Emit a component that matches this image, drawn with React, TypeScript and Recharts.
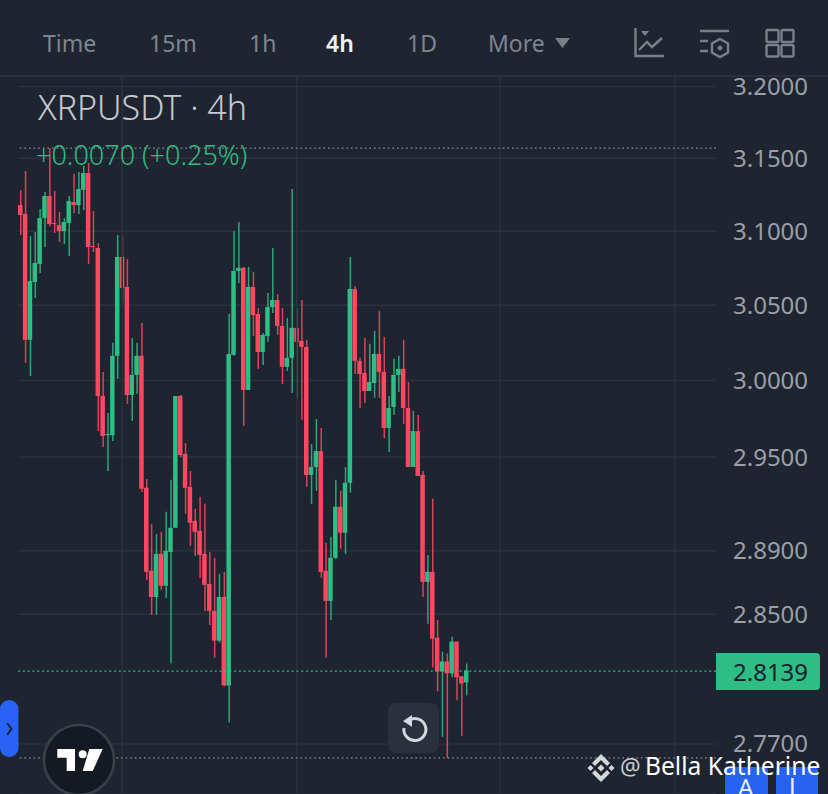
import {
  ComposedChart, Bar, XAxis, YAxis, CartesianGrid, ReferenceLine, Cell,
} from 'recharts';

const opens = [
  3.1178, 3.1117, 3.0269, 3.0656, 3.0778, 3.1089, 3.1240, 3.1055, 3.1041, 3.1000,
  3.1055, 3.1199, 3.1178, 3.1282, 3.1398, 3.0899, 3.0885, 2.9899, 2.9643, 2.9643,
  3.0163, 3.0825, 3.0623, 2.9905, 3.0037, 3.0163, 2.9302, 2.8773, 2.8608, 2.8880,
  2.8678, 2.8892, 2.9046, 2.9899, 2.9520, 2.9308, 2.9090, 2.9027, 2.8880, 2.8690,
  2.8520, 2.8335, 2.8608, 2.8058, 3.0170, 3.0730, 3.0751, 2.9938, 3.0623, 3.0442,
  3.0189, 3.0295, 3.0488, 3.0535, 3.0362, 3.0090, 3.0150, 3.0349, 3.0262, 3.0222,
  2.9385, 2.9436, 2.9539, 2.8773, 2.8583, 2.8855, 2.9180, 2.9014, 2.9334, 3.0609,
  3.0130, 3.0050, 2.9931, 2.9984, 3.0176, 3.0057, 2.9689, 2.9827, 3.0037, 3.0077,
  2.9820, 2.9436, 2.9669, 2.9385, 2.8703, 2.8766, 2.8353, 2.8144, 2.8206, 2.8132,
  2.8329, 2.8114, 2.8076,
];
const closes = [
  3.1110, 3.0269, 3.0663, 3.0784, 3.1089, 3.1240, 3.1048, 3.1048, 3.1000, 3.1062,
  3.1206, 3.1178, 3.1288, 3.1398, 3.0892, 3.0892, 2.9899, 2.9637, 2.9650, 3.0163,
  3.0825, 3.0616, 2.9905, 3.0037, 3.0163, 2.9295, 2.8766, 2.8608, 2.8880, 2.8678,
  2.8899, 2.9046, 2.9899, 2.9513, 2.9302, 2.9078, 2.9020, 2.8873, 2.8684, 2.8520,
  2.8335, 2.8608, 2.8058, 3.0176, 3.0730, 3.0751, 2.9938, 3.0623, 3.0435, 3.0189,
  3.0302, 3.0488, 3.0535, 3.0362, 3.0090, 3.0150, 3.0349, 3.0256, 3.0222, 2.9385,
  2.9436, 2.9539, 2.8766, 2.8583, 2.8855, 2.9180, 2.9014, 2.9334, 3.0609, 3.0130,
  3.0043, 2.9931, 2.9990, 3.0176, 3.0057, 2.9689, 2.9820, 3.0037, 3.0077, 2.9820,
  2.9436, 2.9669, 2.9378, 2.8703, 2.8766, 2.8347, 2.8144, 2.8206, 2.8132, 2.8329,
  2.8108, 2.8070, 2.8150,
];
const highs = [
  3.1282, 3.1412, 3.0966, 3.0993, 3.1151, 3.1268, 3.1570, 3.1275, 3.1130, 3.1089,
  3.1240, 3.1391, 3.1405, 3.1446, 3.1467, 3.1137, 3.0919, 3.0057, 2.9787, 3.0250,
  3.0973, 3.0966, 3.0811, 3.0282, 3.0250, 3.0382, 2.9359, 2.9071, 2.9007, 2.9020,
  2.9148, 2.9353, 2.9899, 2.9905, 2.9591, 2.9410, 2.9167, 2.9244, 2.9199, 2.8892,
  2.8855, 2.8754, 2.8766, 3.0442, 3.1000, 3.1062, 3.0757, 3.0757, 3.0724, 3.0481,
  3.0315, 3.0582, 3.0885, 3.0575, 3.0481, 3.0415, 3.1288, 3.0481, 3.0535, 3.0269,
  2.9585, 2.9748, 2.9689, 2.8950, 2.8988, 2.9353, 2.9282, 2.9436, 3.0825, 3.0629,
  3.0150, 3.0282, 3.0243, 3.0329, 3.0461, 3.0289, 2.9899, 3.0143, 3.0163, 3.0269,
  2.9990, 2.9801, 2.9774, 2.9410, 2.8873, 2.9231, 2.8464, 2.8267, 2.8255, 2.8360,
  2.8329, 2.8114, 2.8193,
];
const lows = [
  3.0973, 3.0117, 3.0030, 3.0549, 3.0717, 3.0892, 3.1034, 3.0987, 3.0926, 3.0912,
  3.0832, 3.1124, 3.1117, 3.1144, 3.0778, 3.0858, 2.9669, 2.9565, 2.9410, 2.9604,
  3.0010, 3.0515, 2.9846, 2.9735, 2.9912, 2.9276, 2.8716, 2.8495, 2.8495, 2.8653,
  2.8602, 2.8193, 2.9046, 2.9500, 2.9135, 2.8931, 2.8867, 2.8728, 2.8520, 2.8433,
  2.8230, 2.8323, 2.8052, 2.7830, 3.0163, 3.0650, 2.9702, 2.9938, 3.0295, 3.0077,
  3.0103, 3.0256, 3.0448, 3.0302, 2.9977, 3.0063, 2.9918, 2.9879, 2.9742, 2.9308,
  2.9199, 2.9282, 2.8728, 2.8230, 2.8464, 2.8848, 2.8912, 2.8880, 2.9270, 3.0043,
  2.9820, 2.9853, 2.9931, 2.9886, 2.9886, 2.9624, 2.9533, 2.9774, 2.9925, 2.9715,
  2.9436, 2.9436, 2.9378, 2.8608, 2.8440, 2.8169, 2.8021, 2.7743, 2.7615, 2.8108,
  2.7966, 2.7750, 2.7996,
];

const priceTicks = [3.2, 3.15, 3.1, 3.05, 3.0, 2.95, 2.89, 2.85, 2.77];
const timeframes = ['Time', '15m', '1h', '4h', '1D', 'More'];
const timeframeLefts = [43, 149, 249, 326, 407, 488];
const gridCandles = [21, 57, 99, 135];
const SLOTS = 144;

const UP = '#2EBD85';
const DOWN = '#FF4761';
const BG = '#1E2530';
const GRID = '#2A313C';
const FONT = '"Noto Sans", sans-serif';

const rows = Array.from({ length: SLOTS }, (_, i) => (
  i < opens.length
    ? {
      index: i,
      wick: [lows[i], highs[i]],
      body: [Math.min(opens[i], closes[i]), Math.max(opens[i], closes[i])],
    }
    : { index: i, wick: null, body: null }
));

function candleCells() {
  return opens.map((o, i) => <Cell key={i} fill={closes[i] >= o ? UP : DOWN} />);
}

function Text({ left, top, size, color, weight, family, children }: {
  left: number; top: number; size: number; color: string; weight?: number; family?: string; children: React.ReactNode;
}) {
  return (
    <div style={{
      position: 'absolute', left, top, fontSize: size, color, fontWeight: weight ?? 400,
      fontFamily: family ?? FONT, lineHeight: 1, whiteSpace: 'nowrap',
    }}>
      {children}
    </div>
  );
}

function ToolIcons() {
  const c = '#7A7F88';
  return (
    <svg width={828} height={76} style={{ position: 'absolute', left: 0, top: 0 }}>
      <g fill="none" stroke={c} strokeWidth={2.4}>
        <path d="M635.5 28V56H664" />
        <path d="M639 50L647 42L652 47L662 38" />
        <path d="M700 31H729M700 41H708M700 51H708" />
        <path d="M720 39L728 43.5V52.5L720 57L712 52.5V43.5Z" />
        <rect x={766.5} y={30} width={12} height={12} rx={1.5} />
        <rect x={781.5} y={30} width={12} height={12} rx={1.5} />
        <rect x={766.5} y={45} width={12} height={11.5} rx={1.5} />
        <rect x={781.5} y={45} width={12} height={11.5} rx={1.5} />
      </g>
      <path d="M720 45L723 48L720 51L717 48Z" fill={c} />
      <path d="M641 31H649L645 36Z" fill={c} />
      <path d="M555 38H570L562.5 48Z" fill={c} />
    </svg>
  );
}

function BottomWidgets() {
  return (
    <svg width={828} height={794} style={{ position: 'absolute', left: 0, top: 0, pointerEvents: 'none' }}>
      <rect x={0} y={700} width={18.5} height={57} rx={9} fill="#2962F5" />
      <path d="M7 723L11.5 729L7 735" fill="none" stroke="#14233F" strokeWidth={2} />

      <circle cx={79} cy={760} r={35} fill="#131A23" stroke="#3A4048" strokeWidth={2.5} />
      <path d="M57.3 749H75V771H66.7V757.7H57.3Z" fill="#fff" />
      <circle cx={82.7} cy={754.3} r={4} fill="#fff" />
      <path d="M89.3 749H102.7L92.7 771H82.7Z" fill="#fff" />

      <rect x={388} y={703} width={51} height={50} rx={8} fill="#2A303C" />
      <path d="M408 721A11 11 0 1 1 404 728" fill="none" stroke="#D5D8DD" strokeWidth={3} />
      <path d="M412 715V727L403 721Z" fill="#D5D8DD" />

      <path d="M725 794V771a4 4 0 0 1 4-4H764a4 4 0 0 1 4 4V794Z" fill="#2563F0" />
      <path d="M776 794V771a4 4 0 0 1 4-4H814a4 4 0 0 1 4 4V794Z" fill="#2563F0" />

      <g fill="#D6D7D9" transform="translate(601 768)">
        <path d="M0 -14L9 -5L6 -2L0 -8L-6 -2L-9 -5Z" />
        <path d="M0 14L9 5L6 2L0 8L-6 2L-9 5Z" />
        <path d="M0 -3.5L3.5 0L0 3.5L-3.5 0Z" />
        <path d="M-10.5 -3L-7.5 0L-10.5 3L-13.5 0Z" />
        <path d="M10.5 -3L13.5 0L10.5 3L7.5 0Z" />
      </g>
    </svg>
  );
}

export default function App() {
  return (
    <div style={{
      position: 'absolute', left: 0, top: 0, width: 828, height: 794, background: BG,
      overflow: 'hidden', fontFamily: FONT,
    }}>
      <div style={{ position: 'absolute', left: 0, top: 0 }}>
        <ComposedChart
          width={828}
          height={794}
          data={rows}
          margin={{ top: 76, right: 0, bottom: 0, left: 18 }}
          barCategoryGap={0}
        >
          <XAxis dataKey="index" hide />
          <XAxis dataKey="index" xAxisId="wick" hide />
          <YAxis
            orientation="right"
            width={112}
            scale="log"
            domain={[2.7397, 3.2074]}
            allowDataOverflow
            ticks={priceTicks}
            interval={0}
            tickFormatter={(v: number) => v.toFixed(4)}
            tick={{ fill: '#9A9FA8', fontSize: 24, fontFamily: FONT }}
            axisLine={false}
            tickLine={false}
            tickMargin={11}
          />
          <CartesianGrid vertical={false} stroke={GRID} strokeWidth={1.5} />
          {gridCandles.map((c) => (
            <ReferenceLine key={c} x={c} stroke={GRID} strokeWidth={1.5} />
          ))}
          <ReferenceLine y={3.157} stroke="#8A8F98" strokeWidth={1.2} strokeDasharray="1.6 3" />
          <ReferenceLine y={2.7615} stroke="#8A8F98" strokeWidth={1.2} strokeDasharray="1.6 3" />
          <ReferenceLine y={2.8146} stroke={UP} strokeWidth={1.2} strokeDasharray="2 2.8" />
          <Bar dataKey="wick" xAxisId="wick" barSize={1.5} fillOpacity={0.85} isAnimationActive={false}>
            {candleCells()}
          </Bar>
          <Bar dataKey="body" barSize={4.5} isAnimationActive={false}>
            {candleCells()}
          </Bar>
        </ComposedChart>
      </div>

      <div style={{ position: 'absolute', left: 0, top: 75, width: 828, height: 2, background: GRID }} />

      {timeframes.map((t, i) => (
        <Text
          key={t}
          left={timeframeLefts[i]}
          top={32}
          size={23}
          color={t === '4h' ? '#F2F3F5' : '#7F858F'}
          weight={t === '4h' ? 600 : 400}
        >
          {t}
        </Text>
      ))}
      <ToolIcons />

      <Text left={38} top={90} size={34} color="#C5C9CF" weight={300}>XRPUSDT · 4h</Text>
      <Text left={36} top={141} size={27} color={UP} weight={300}>+0.0070 (+0.25%)</Text>

      <div style={{
        position: 'absolute', left: 716, top: 653, width: 104, height: 37, background: UP,
        borderRadius: '0 4px 4px 0', color: '#17212B', fontSize: 24, lineHeight: '37px',
        paddingLeft: 17, boxSizing: 'border-box',
      }}>
        2.8139
      </div>

      <BottomWidgets />
      <Text left={738} top={775} size={24} color="#E8ECF5">A</Text>
      <Text left={789} top={775} size={24} color="#E8ECF5" family="Roboto, sans-serif">I</Text>
      <Text left={620} top={755} size={23} color="#C9CBD0">@</Text>
      <Text left={645} top={754} size={24.6} color="#FFFFFF">Bella Katherine</Text>
    </div>
  );
}
